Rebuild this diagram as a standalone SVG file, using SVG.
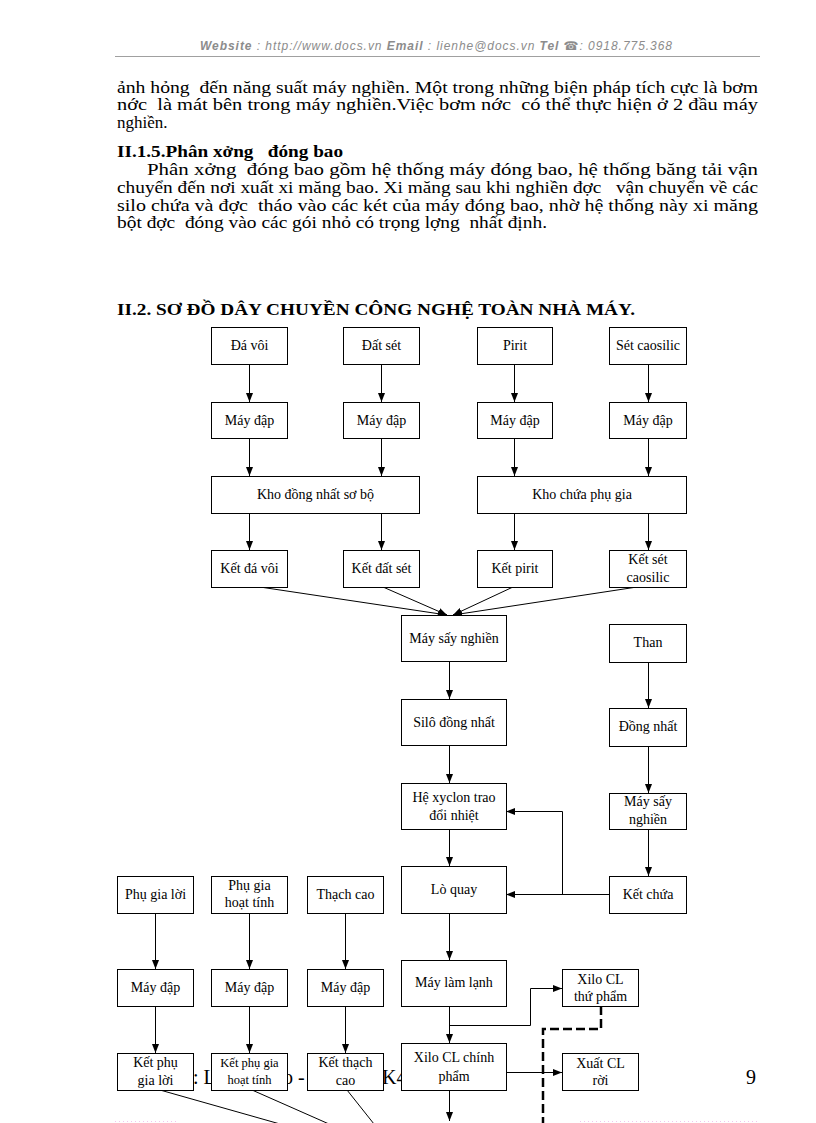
<svg xmlns="http://www.w3.org/2000/svg" width="816" height="1123" viewBox="0 0 816 1123">
<style>
.hdr{font-family:"Liberation Sans","DejaVu Sans",sans-serif;font-style:italic;font-size:12px;fill:#8c8c8c}
.body{font-family:"Liberation Serif","Times New Roman",serif;font-size:17px;fill:#000;white-space:pre}
.bold{font-weight:bold}
.lbl{font-family:"Liberation Serif","Times New Roman",serif;font-size:14px;fill:#000;text-anchor:middle}
.sm{font-size:12.5px}
.foot{font-family:"Liberation Serif","Times New Roman",serif;font-size:20px;fill:#000}
.box{fill:#fff;stroke:#000;stroke-width:1}
.ln{fill:none;stroke:#000;stroke-width:1}
.arr{marker-end:url(#ah)}
.dash{fill:none;stroke:#000;stroke-width:2.5;stroke-dasharray:9 4}
</style>
<defs>
<marker id="ah" markerUnits="userSpaceOnUse" markerWidth="9" markerHeight="7" refX="9" refY="3.5" orient="auto">
<path d="M0,0 L9,3.5 L0,7 z" fill="#000"/>
</marker>
</defs>
<rect width="816" height="1123" fill="#fff"/>

<g id="header">
<text class="hdr" x="200" y="50" textLength="472" lengthAdjust="spacing"><tspan font-weight="bold">Website</tspan> : http://www.docs.vn <tspan font-weight="bold">Email</tspan>  : lienhe@docs.vn  <tspan font-weight="bold">Tel</tspan> ☎: 0918.775.368</text>
<line x1="115" y1="56.5" x2="760" y2="56.5" stroke="#a0a0a0" stroke-width="1"/>
</g>

<g id="text">
<text class="body" x="117" y="93" textLength="641" lengthAdjust="spacingAndGlyphs" xml:space="preserve">ảnh hỏng  đến năng suất máy nghiền. Một trong những biện pháp tích cực là bơm</text>
<text class="body" x="117" y="110" textLength="641" lengthAdjust="spacingAndGlyphs" xml:space="preserve">nớc  là mát bên trong máy nghiền.Việc bơm nớc  có thể thực hiện ở 2 đầu máy</text>
<text class="body" x="117" y="128">nghiền.</text>
<text class="body bold" x="117" y="157" font-size="18" textLength="226" lengthAdjust="spacingAndGlyphs" xml:space="preserve">II.1.5.Phân xởng   đóng bao</text>
<text class="body" x="147" y="175" textLength="611" lengthAdjust="spacingAndGlyphs" xml:space="preserve">Phân xởng  đóng bao gồm hệ thống máy đóng bao, hệ thống băng tải vận</text>
<text class="body" x="117" y="193" textLength="641" lengthAdjust="spacingAndGlyphs" xml:space="preserve">chuyển đến nơi xuất xi măng bao. Xi măng sau khi nghiền đợc   vận chuyển về các</text>
<text class="body" x="117" y="211" textLength="641" lengthAdjust="spacingAndGlyphs" xml:space="preserve">silo chứa và đợc  tháo vào các két của máy đóng bao, nhờ hệ thống này xi măng</text>
<text class="body" x="117" y="228" textLength="430" lengthAdjust="spacingAndGlyphs" xml:space="preserve">bột đợc  đóng vào các gói nhỏ có trọng lợng  nhất định.</text>
<text class="body bold" x="117" y="315" font-size="21" textLength="518" lengthAdjust="spacingAndGlyphs">II.2. SƠ ĐỒ DÂY CHUYỀN CÔNG NGHỆ TOÀN NHÀ MÁY.</text>
</g>

<g id="footer">
<line x1="115" y1="1121.5" x2="176" y2="1121.5" stroke="#f2c4ef" stroke-width="1" stroke-dasharray="1 3"/>
<line x1="580" y1="1121.5" x2="760" y2="1121.5" stroke="#f2c4ef" stroke-width="1" stroke-dasharray="1 3"/>
<text class="foot" x="193" y="1084">: L</text>
<text class="foot" x="283" y="1084">o -</text>
<text class="foot" x="382" y="1084">K4</text>
<text class="foot" x="746" y="1084">9</text>
</g>

<g id="connectors">
<path class="ln arr" d="M249.5,364 V402"/>
<path class="ln arr" d="M249.5,438 V476"/>
<path class="ln arr" d="M249.5,513 V550"/>
<path class="ln arr" d="M381.5,364 V402"/>
<path class="ln arr" d="M381.5,438 V476"/>
<path class="ln arr" d="M381.5,513 V550"/>
<path class="ln arr" d="M514.5,364 V402"/>
<path class="ln arr" d="M514.5,438 V476"/>
<path class="ln arr" d="M514.5,513 V550"/>
<path class="ln arr" d="M648.5,364 V402"/>
<path class="ln arr" d="M648.5,438 V476"/>
<path class="ln arr" d="M648.5,513 V550"/>
<path class="ln arr" d="M260,587 L447,615"/>
<path class="ln arr" d="M383,587 L447,615"/>
<path class="ln arr" d="M513,587 L453,615"/>
<path class="ln arr" d="M637,587 L453,615"/>
<path class="ln arr" d="M449.5,661 V699"/>
<path class="ln arr" d="M449.5,745 V783"/>
<path class="ln arr" d="M449.5,829 V866"/>
<path class="ln arr" d="M449.5,913 V960"/>
<path class="ln arr" d="M449.5,1006 V1043"/>
<path class="ln arr" d="M449.5,1090 V1121"/>
<path class="ln arr" d="M648.5,662 V708"/>
<path class="ln arr" d="M648.5,746 V793"/>
<path class="ln arr" d="M648.5,829 V876"/>
<path class="ln arr" d="M609,894.5 H506"/>
<path class="ln arr" d="M562.5,894.5 V811.5 H506"/>
<path class="ln arr" d="M449.5,1025.5 H530.5 V988.5 H562"/>
<path class="ln arr" d="M506,1072.5 H562"/>
<path class="dash" d="M601,1006 V1029 H543 V1123"/>
<path class="ln arr" d="M155.5,913 V969"/>
<path class="ln arr" d="M155.5,1006 V1053"/>
<path class="ln arr" d="M249.5,913 V969"/>
<path class="ln arr" d="M249.5,1006 V1053"/>
<path class="ln arr" d="M345.5,913 V969"/>
<path class="ln arr" d="M345.5,1006 V1053"/>
<path class="ln" d="M160,1090 L280,1124"/>
<path class="ln" d="M252,1090 L329,1124"/>
<path class="ln" d="M347,1090 L374,1124"/>
</g>

<g id="n_da_voi"><rect class="box" x="211.5" y="327.5" width="76" height="37"/><text class="lbl" x="249.5" y="350">Đá vôi</text></g>
<g id="n_dat_set"><rect class="box" x="343.5" y="327.5" width="76" height="37"/><text class="lbl" x="381.5" y="350">Đất sét</text></g>
<g id="n_pirit"><rect class="box" x="477.5" y="327.5" width="75" height="37"/><text class="lbl" x="515" y="350">Pirit</text></g>
<g id="n_set_caosilic"><rect class="box" x="609.5" y="327.5" width="77" height="37"/><text class="lbl" x="648" y="350">Sét caosilic</text></g>

<g id="n_may_dap_1"><rect class="box" x="211.5" y="402.5" width="76" height="36"/><text class="lbl" x="249.5" y="425">Máy đập</text></g>
<g id="n_may_dap_2"><rect class="box" x="343.5" y="402.5" width="76" height="36"/><text class="lbl" x="381.5" y="425">Máy đập</text></g>
<g id="n_may_dap_3"><rect class="box" x="477.5" y="402.5" width="75" height="36"/><text class="lbl" x="515" y="425">Máy đập</text></g>
<g id="n_may_dap_4"><rect class="box" x="609.5" y="402.5" width="77" height="36"/><text class="lbl" x="648" y="425">Máy đập</text></g>

<g id="n_kho_dong_nhat"><rect class="box" x="211.5" y="476.5" width="208" height="37"/><text class="lbl" x="315.5" y="499">Kho đồng nhất sơ bộ</text></g>
<g id="n_kho_phu_gia"><rect class="box" x="477.5" y="476.5" width="209" height="37"/><text class="lbl" x="582" y="499">Kho chứa phụ gia</text></g>

<g id="n_ket_da_voi"><rect class="box" x="211.5" y="550.5" width="76" height="37"/><text class="lbl" x="249.5" y="573">Kết đá vôi</text></g>
<g id="n_ket_dat_set"><rect class="box" x="343.5" y="550.5" width="76" height="37"/><text class="lbl" x="381.5" y="573">Kết đất sét</text></g>
<g id="n_ket_pirit"><rect class="box" x="477.5" y="550.5" width="75" height="37"/><text class="lbl" x="515" y="573">Kết pirit</text></g>
<g id="n_ket_set_caosilic"><rect class="box" x="609.5" y="550.5" width="77" height="37"/><text class="lbl" x="648" y="564">Kết sét</text><text class="lbl" x="648" y="582">caosilic</text></g>

<g id="n_may_say_nghien"><rect class="box" x="401.5" y="615.5" width="105" height="46"/><text class="lbl" x="454" y="643">Máy sấy nghiền</text></g>
<g id="n_than"><rect class="box" x="609.5" y="624.5" width="77" height="38"/><text class="lbl" x="648" y="647">Than</text></g>
<g id="n_silo_dong_nhat"><rect class="box" x="401.5" y="699.5" width="105" height="46"/><text class="lbl" x="454" y="727">Silô đồng nhất</text></g>
<g id="n_dong_nhat"><rect class="box" x="609.5" y="708.5" width="77" height="38"/><text class="lbl" x="648" y="731">Đồng nhất</text></g>
<g id="n_he_xyclon"><rect class="box" x="401.5" y="783.5" width="105" height="46"/><text class="lbl" x="454" y="802">Hệ xyclon trao</text><text class="lbl" x="454" y="820">đổi nhiệt</text></g>
<g id="n_may_say_nghien_than"><rect class="box" x="609.5" y="793.5" width="77" height="36"/><text class="lbl" x="648" y="806">Máy sấy</text><text class="lbl" x="648" y="824">nghiền</text></g>
<g id="n_lo_quay"><rect class="box" x="401.5" y="866.5" width="105" height="47"/><text class="lbl" x="454" y="894">Lò quay</text></g>
<g id="n_ket_chua"><rect class="box" x="609.5" y="876.5" width="77" height="37"/><text class="lbl" x="648" y="899">Kết chứa</text></g>

<g id="n_phu_gia_loi"><rect class="box" x="117.5" y="876.5" width="76" height="37"/><text class="lbl" x="155.5" y="899">Phụ gia lời</text></g>
<g id="n_phu_gia_hoat_tinh"><rect class="box" x="211.5" y="876.5" width="76" height="37"/><text class="lbl" x="249.5" y="890">Phụ gia</text><text class="lbl" x="249.5" y="907">hoạt tính</text></g>
<g id="n_thach_cao"><rect class="box" x="307.5" y="876.5" width="76" height="37"/><text class="lbl" x="345.5" y="899">Thạch cao</text></g>

<g id="n_may_dap_5"><rect class="box" x="117.5" y="969.5" width="76" height="37"/><text class="lbl" x="155.5" y="992">Máy đập</text></g>
<g id="n_may_dap_6"><rect class="box" x="211.5" y="969.5" width="76" height="37"/><text class="lbl" x="249.5" y="992">Máy đập</text></g>
<g id="n_may_dap_7"><rect class="box" x="307.5" y="969.5" width="76" height="37"/><text class="lbl" x="345.5" y="992">Máy đập</text></g>

<g id="n_ket_phu_gia_loi"><rect class="box" x="117.5" y="1053.5" width="76" height="37"/><text class="lbl" x="155.5" y="1067">Kết phụ</text><text class="lbl" x="155.5" y="1085">gia lời</text></g>
<g id="n_ket_phu_gia_hoat_tinh"><rect class="box" x="211.5" y="1053.5" width="76" height="37"/><text class="lbl sm" x="249.5" y="1067">Kết phụ gia</text><text class="lbl sm" x="249.5" y="1084">hoạt tính</text></g>
<g id="n_ket_thach_cao"><rect class="box" x="307.5" y="1053.5" width="76" height="37"/><text class="lbl" x="345.5" y="1067">Kết thạch</text><text class="lbl" x="345.5" y="1085">cao</text></g>

<g id="n_may_lam_lanh"><rect class="box" x="401.5" y="960.5" width="105" height="46"/><text class="lbl" x="454" y="987">Máy làm lạnh</text></g>
<g id="n_xilo_thu_pham"><rect class="box" x="562.5" y="969.5" width="76" height="37"/><text class="lbl" x="600.5" y="984">Xilo CL</text><text class="lbl" x="600.5" y="1001">thứ phẩm</text></g>
<g id="n_xilo_chinh_pham"><rect class="box" x="401.5" y="1043.5" width="105" height="47"/><text class="lbl" x="454" y="1062">Xilo CL chính</text><text class="lbl" x="454" y="1081">phẩm</text></g>
<g id="n_xuat_cl_roi"><rect class="box" x="562.5" y="1053.5" width="76" height="37"/><text class="lbl" x="600.5" y="1068">Xuất CL</text><text class="lbl" x="600.5" y="1085">rời</text></g>
</svg>
